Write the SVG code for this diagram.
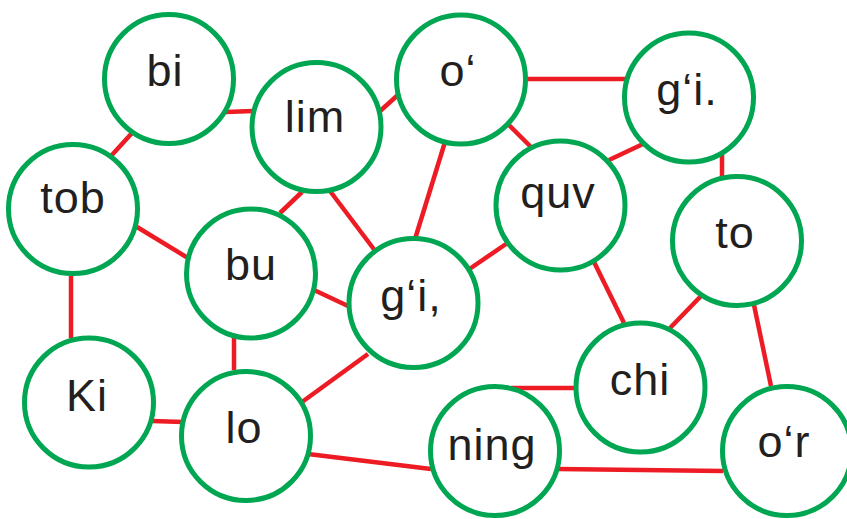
<svg xmlns="http://www.w3.org/2000/svg" width="847" height="519" viewBox="0 0 847 519">
<style>
.n circle{fill:#fff;stroke:#00A651;stroke-width:5}
.n text{font-family:"Liberation Sans",Arial,sans-serif;font-size:45px;fill:#231F20;text-anchor:middle;letter-spacing:1px}
#edges line{stroke:#ED1C24;stroke-width:4.5}
</style>
<rect width="847" height="519" fill="#fff"/>
<g id="edges">
<line x1="226" y1="112" x2="253" y2="111"/>
<line x1="132" y1="133" x2="111" y2="156"/>
<line x1="379" y1="112" x2="399" y2="94"/>
<line x1="302" y1="192" x2="280" y2="213"/>
<line x1="330" y1="191" x2="376" y2="252"/>
<line x1="137" y1="227" x2="188" y2="258"/>
<line x1="445" y1="142" x2="415" y2="239"/>
<line x1="527" y1="79" x2="626" y2="79"/>
<line x1="508" y1="124" x2="532" y2="148"/>
<line x1="643" y1="144" x2="609" y2="160"/>
<line x1="722" y1="154" x2="722" y2="177"/>
<line x1="506" y1="244" x2="468" y2="270"/>
<line x1="594" y1="262" x2="624" y2="323"/>
<line x1="701" y1="296" x2="670" y2="328"/>
<line x1="754" y1="305" x2="771" y2="386"/>
<line x1="575" y1="388" x2="511" y2="388"/>
<line x1="558" y1="469" x2="723" y2="471"/>
<line x1="308" y1="454" x2="431" y2="469"/>
<line x1="71" y1="276" x2="71" y2="338"/>
<line x1="234" y1="338" x2="234" y2="370"/>
<line x1="314" y1="290" x2="348" y2="306"/>
<line x1="152" y1="421" x2="183" y2="422"/>
<line x1="302" y1="402" x2="368" y2="354"/>
</g>
<g id="bi" class="n"><circle cx="169" cy="79" r="64.5"/><text x="165" y="86">bi</text></g>
<g id="lim" class="n"><circle cx="316.5" cy="127" r="64.5"/><text x="315" y="132">lim</text></g>
<g id="o1" class="n"><circle cx="461" cy="79.5" r="64.5"/><text x="458" y="86">o‘</text></g>
<g id="gi_dot" class="n"><circle cx="689" cy="97.5" r="64.5"/><text x="687" y="105">g‘i.</text></g>
<g id="tob" class="n"><circle cx="73" cy="209" r="64.5"/><text x="73" y="213">tob</text></g>
<g id="bu" class="n"><circle cx="251" cy="273.5" r="64.5"/><text x="251" y="280">bu</text></g>
<g id="quv" class="n"><circle cx="560.5" cy="205.5" r="64.5"/><text x="558" y="208">quv</text></g>
<g id="to" class="n"><circle cx="737" cy="241" r="64.5"/><text x="735" y="248">to</text></g>
<g id="gi_comma" class="n"><circle cx="413.5" cy="303" r="64.5"/><text x="411" y="311">g‘i,</text></g>
<g id="Ki" class="n"><circle cx="89" cy="402.5" r="64.5"/><text x="87" y="411">Ki</text></g>
<g id="lo" class="n"><circle cx="246" cy="436" r="64.5"/><text x="244" y="443">lo</text></g>
<g id="chi" class="n"><circle cx="640.5" cy="387.5" r="64.5"/><text x="640" y="395">chi</text></g>
<g id="ning" class="n"><circle cx="495" cy="451" r="64.5"/><text x="492" y="460">ning</text></g>
<g id="or" class="n"><circle cx="787" cy="451" r="64.5"/><text x="784" y="457">o‘r</text></g>
</svg>
